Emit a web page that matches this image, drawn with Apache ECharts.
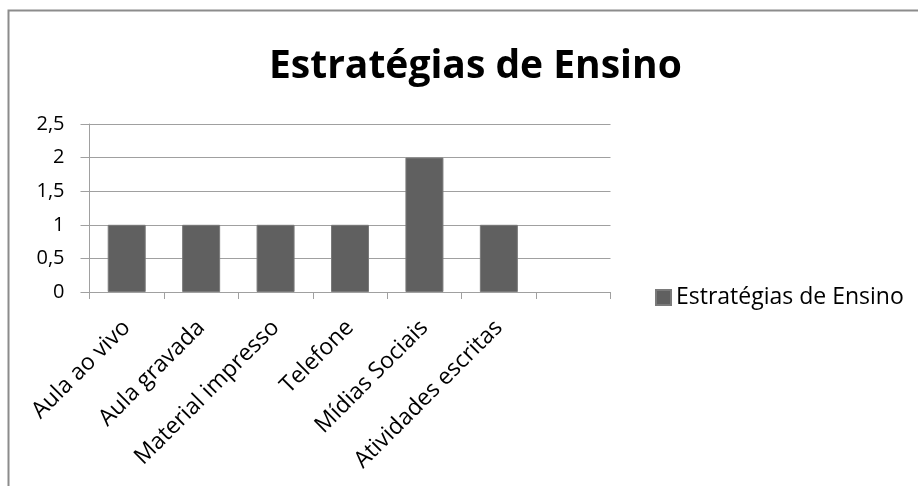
<!DOCTYPE html>
<html><head><meta charset="utf-8">
<script src="https://cdn.jsdelivr.net/npm/echarts@6/dist/echarts.min.js"></script>
<style>html,body{margin:0;padding:0;background:#fff}#c{width:918px;height:486px}</style>
</head><body><div id="c"></div>
<script>
const titleText = 'Estratégias de Ensino';
const seriesName = 'Estratégias de Ensino';
const categories = ['Aula ao vivo', 'Aula gravada', 'Material impresso', 'Telefone', 'Mídias Sociais', 'Atividades escritas', ''];
const values = [1, 1, 1, 1, 2, 1, null];
const yTicks = ['0', '0,5', '1', '1,5', '2', '2,5'];

const chart = echarts.init(document.getElementById('c'));
const font = 'Open Sans';
chart.setOption({
  animation: false,
  backgroundColor: '#fff',
  graphic: [{
    type: 'polyline', shape: {points: [[8.5, 486], [8.5, 10.5], [918, 10.5]]},
    style: {stroke: '#8c8c8c', lineWidth: 2, fill: null}
  }],
  title: {
    text: titleText, left: 264, top: 42,
    textStyle: {fontFamily: font, fontWeight: 'bold', fontSize: 39, color: '#000'}
  },
  legend: {
    data: [seriesName], left: 650, top: 281, itemWidth: 15, itemHeight: 15, icon: 'rect', itemGap: 6,
    textStyle: {fontFamily: font, fontSize: 23, color: '#000'}
  },
  grid: {left: 89.5, right: 307.5, top: 124, bottom: 194, containLabel: false},
  xAxis: {
    type: 'category', data: categories,
    axisLine: {lineStyle: {color: '#a0a0a0', width: 1}},
    axisTick: {show: true, length: 7, alignWithLabel: false, lineStyle: {color: '#a0a0a0'}},
    axisLabel: {rotate: 45, interval: 0, fontFamily: font, fontSize: 23, color: '#000', margin: 32}
  },
  yAxis: {
    type: 'value', min: 0, max: 2.5, interval: 0.5,
    axisLine: {show: true, lineStyle: {color: '#a0a0a0'}},
    axisTick: {show: true, length: 9, lineStyle: {color: '#a0a0a0'}},
    splitLine: {lineStyle: {color: '#a0a0a0', width: 1}},
    axisLabel: {fontFamily: font, fontSize: 20, color: '#000', margin: 25,
      formatter: v => yTicks[Math.round(v / 0.5)]}
  },
  series: [{
    name: seriesName, type: 'bar', data: values, barWidth: 38,
    itemStyle: {color: '#606060', borderColor: '#7a7a7a', borderWidth: 1}
  }]
});
</script></body></html>
